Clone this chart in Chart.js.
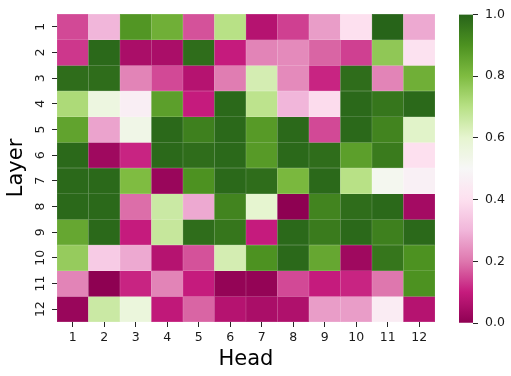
<!DOCTYPE html>
<html>
<head>
<meta charset="utf-8">
<script src="https://cdn.jsdelivr.net/npm/chart.js@4.4.1/dist/chart.umd.min.js"></script>
<style>
  html, body { margin: 0; padding: 0; background: #ffffff; }
  #wrap { position: relative; width: 511px; height: 376px; }
  #main { position: absolute; left: 0; top: 0; }
  #cbar { position: absolute; left: 440px; top: 0; }
</style>
</head>
<body>
<div id="wrap">
  <canvas id="main" width="511" height="376"></canvas>
  <canvas id="cbar" width="71" height="376"></canvas>
</div>
<script>
// ---- data ----
const heads  = ['1','2','3','4','5','6','7','8','9','10','11','12'];
const layers = [1,2,3,4,5,6,7,8,9,10,11,12];
const L1  = [0.15,0.30,0.89,0.83,0.16,0.70,0.07,0.14,0.26,0.40,1.00,0.28];
const L2  = [0.13,0.99,0.05,0.05,0.98,0.10,0.22,0.23,0.18,0.14,0.77,0.41];
const L3  = [0.98,0.98,0.22,0.15,0.07,0.21,0.64,0.23,0.11,0.98,0.22,0.83];
const L4  = [0.72,0.56,0.46,0.87,0.10,0.99,0.69,0.30,0.39,0.99,0.96,0.99];
const L5  = [0.86,0.27,0.54,0.99,0.94,0.99,0.88,0.99,0.15,0.99,0.93,0.61];
const L6  = [0.99,0.03,0.11,0.99,0.98,0.99,0.88,0.99,0.98,0.87,0.95,0.40];
const L7  = [0.99,0.99,0.80,0.02,0.90,0.99,0.98,0.81,0.99,0.70,0.52,0.47];
const L8  = [0.99,0.99,0.19,0.66,0.28,0.93,0.60,0.00,0.93,0.98,0.99,0.04];
const L9  = [0.85,0.99,0.10,0.67,0.98,0.96,0.10,0.99,0.95,0.99,0.94,0.99];
const L10 = [0.76,0.35,0.28,0.07,0.16,0.64,0.90,0.99,0.85,0.03,0.96,0.90];
const L11 = [0.22,0.00,0.11,0.22,0.10,0.01,0.01,0.15,0.10,0.11,0.20,0.90];
const L12 = [0.02,0.66,0.57,0.09,0.18,0.07,0.05,0.06,0.26,0.26,0.45,0.07];
const layerValues = [L1,L2,L3,L4,L5,L6,L7,L8,L9,L10,L11,L12];
const colorbarTicks = [0,0.2,0.4,0.6,0.8,1.0];

// ---- PiYG colormap ----
const piyg = [
  [142,1,82],[197,27,125],[222,119,174],[241,182,218],[253,224,239],
  [247,247,247],[230,245,208],[184,225,134],[127,188,65],[77,146,33],[39,100,25]
];
function cmap(v, mix) {
  v = Math.max(0, Math.min(1, v));
  const p = v * (piyg.length - 1);
  const i = Math.min(piyg.length - 2, Math.floor(p));
  const t = p - i;
  let c = piyg[i].map((a, k) => a + (piyg[i+1][k] - a) * t);
  if (mix) c = c.map(a => a + (255 - a) * mix);
  return 'rgb(' + c.map(Math.round).join(',') + ')';
}

Chart.defaults.font.family = "'DejaVu Sans', sans-serif";
Chart.defaults.color = '#1a1a1a';

const tickFont = { size: 12.5 };
const titleFont = { size: 21, lineHeight: 1.2 };

const datasets = layerValues.map((row, r) => ({
  label: 'Layer ' + layers[r],
  data: row.map(() => [layers[r] - 0.5, layers[r] + 0.5]),
  backgroundColor: row.map(v => cmap(v)),
  borderColor: row.map(v => cmap(v, 0.3)),
  borderWidth: 0.5,
  borderSkipped: false,
  barPercentage: 1,
  categoryPercentage: 1,
  grouped: false
}));

new Chart(document.getElementById('main'), {
  type: 'bar',
  data: { labels: heads, datasets },
  options: {
    responsive: false,
    animation: false,
    devicePixelRatio: 1,
    layout: { padding: { top: 14, right: 76, left: 0, bottom: 0 } },
    plugins: { legend: { display: false }, tooltip: { enabled: false } },
    scales: {
      x: {
        type: 'category',
        offset: true,
        grid: { offset: false, drawOnChartArea: false, drawTicks: true, tickLength: 5, color: '#262626', lineWidth: 1 },
        border: { display: false },
        ticks: { font: tickFont, padding: 3.5, maxRotation: 0, autoSkip: false, color: '#1a1a1a' },
        title: { display: true, text: 'Head', font: titleFont, padding: { top: 0, bottom: 3.4 }, color: '#000' },
        afterFit: s => { s.height = 54; }
      },
      y: {
        type: 'linear',
        reverse: true,
        min: 0.5,
        max: 12.5,
        afterBuildTicks: s => { s.ticks = layers.map(v => ({ value: v })); },
        grid: { drawOnChartArea: false, drawTicks: true, tickLength: 5, color: '#262626', lineWidth: 1 },
        border: { display: false },
        ticks: {
          font: tickFont, padding: 3.2, minRotation: 90, maxRotation: 90,
          crossAlign: 'center', autoSkip: false, color: '#1a1a1a',
          callback: v => String(v)
        },
        title: { display: true, text: 'Layer', font: titleFont, padding: { top: 3.9, bottom: 0 }, color: '#000' },
        afterFit: s => { s.width = 57; }
      }
    }
  }
});

// ---- colorbar ----
new Chart(document.getElementById('cbar'), {
  type: 'bar',
  data: {
    labels: [''],
    datasets: [{
      data: [[colorbarTicks[0], colorbarTicks[colorbarTicks.length - 1]]],
      backgroundColor: (ctx) => {
        const chart = ctx.chart;
        const area = chart.chartArea;
        if (!area) return cmap(0.5);
        const g = chart.ctx.createLinearGradient(0, area.bottom, 0, area.top);
        for (let i = 0; i <= 50; i++) g.addColorStop(i / 50, cmap(i / 50));
        return g;
      },
      borderWidth: 0,
      barPercentage: 1,
      categoryPercentage: 1
    }]
  },
  options: {
    responsive: false,
    animation: false,
    devicePixelRatio: 1,
    layout: { padding: { top: 14, left: 19, bottom: 53, right: 0 } },
    plugins: { legend: { display: false }, tooltip: { enabled: false } },
    scales: {
      x: { display: false },
      y: {
        position: 'right',
        min: 0, max: 1,
        afterBuildTicks: s => { s.ticks = colorbarTicks.map(v => ({ value: v })); },
        grid: { drawOnChartArea: false, drawTicks: true, tickLength: 5, color: '#262626', lineWidth: 1 },
        border: { display: false },
        ticks: { font: tickFont, padding: 7, color: '#1a1a1a', callback: v => Number(v).toFixed(1) },
        afterFit: s => { s.width = 38; }
      }
    }
  }
});
</script>
</body>
</html>
